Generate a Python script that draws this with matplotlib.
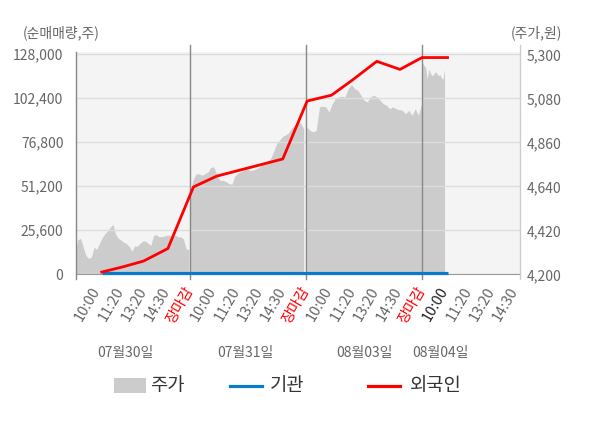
import matplotlib
matplotlib.use("Agg")
import matplotlib.pyplot as plt
from matplotlib.patches import Rectangle
from matplotlib.lines import Line2D
import numpy as np

plt.rcParams["font.family"] = ["Noto Sans CJK KR", "DejaVu Sans"]

# x axis: 5 slots per trading day, one tick label per slot end
tick_labels = (["10:00", "11:20", "13:20", "14:30", "장마감"] * 3
               + ["10:00", "11:20", "13:20", "14:30"])
day_labels = ["07월30일", "07월31일", "08월03일", "08월04일"]
day_label_x = [2.2, 7.4, 12.5, 15.8]

# 주가 (원), intraday samples per day
price_day1 = [4307, 4372, 4380, 4337, 4295, 4279, 4287, 4335, 4325, 4355,
              4383, 4403, 4417, 4435, 4450, 4400, 4380, 4370, 4360, 4353,
              4340, 4315, 4342, 4340, 4355, 4366, 4366, 4355, 4345, 4395,
              4398, 4388, 4388, 4391, 4396, 4395, 4390, 4395, 4387, 4387,
              4378, 4328, 4323]
price_day2 = [4611, 4670, 4702, 4703, 4695, 4703, 4712, 4735, 4737, 4693,
              4670, 4670, 4664, 4654, 4650, 4692, 4706, 4714, 4722, 4727,
              4720, 4720, 4727, 4734, 4747, 4758, 4765, 4780, 4815, 4855,
              4872, 4890, 4897, 4908, 4932, 4945, 4965, 4956, 4928]
price_day3 = [4937, 4920, 4912, 4920, 5037, 5040, 5037, 5012, 5053, 5078,
              5087, 5090, 5087, 5128, 5150, 5128, 5120, 5095, 5070, 5062,
              5087, 5095, 5087, 5070, 5053, 5045, 5028, 5037, 5028, 5023,
              5020, 5003, 5020, 4995, 5028, 4995, 5053]
price_day4 = [5255, 5245, 5233, 5178, 5225, 5208, 5192, 5200, 5212, 5208,
              5192, 5200, 5183, 5175, 5225]
price_days = [price_day1, price_day2, price_day3, price_day4]
day_spans = [(0.05, 4.95), (5.0, 9.9), (10.03, 14.98), (15.02, 15.97)]

# 누적 순매매량 (주)
flow_x = [1.2, 2.1, 3.0, 4.05, 5.15, 6.15, 9.0, 10.05, 11.1, 12.0, 13.05, 14.05, 15.0, 16.1]
foreign = [1300, 4300, 7700, 15000, 50800, 57100, 67100, 100800, 104200,
           113000, 123900, 119200, 126100, 126100]
institution = [1000] * len(flow_x)

left_ticks = [0, 25600, 51200, 76800, 102400, 128000]
right_ticks = [4200, 4420, 4640, 4860, 5080, 5300]

GRAY_TXT = "#666666"

fig = plt.figure(figsize=(6, 4.28), dpi=100)
ax = fig.add_axes([76 / 600, (428 - 274.3) / 428, 443.5 / 600, 222.6 / 428])
ax2 = ax.twinx()

ax.set_zorder(2)
ax.patch.set_visible(False)
ax2.set_zorder(1)
ax2.patch.set_visible(True)
ax2.set_facecolor("#f4f4f4")

# price area
for prices, (x0, x1) in zip(price_days, day_spans):
    xs = np.linspace(x0, x1, len(prices))
    ax2.fill_between(xs, 4200, prices, color="#cccccc", lw=0)

ax2.set_ylim(4200, 5313)
ax2.set_yticks(right_ticks)
ax2.set_yticklabels([f"{v:,}" for v in right_ticks])

# flows
ax.plot(flow_x, institution, color="#0c7bc7", lw=2.3, solid_capstyle="butt",
        zorder=6, clip_on=False)
ax.plot(flow_x, foreign, color="#ff0000", lw=2.0, zorder=7, clip_on=False)

ax.set_xlim(0.09, 19.2)
ax.set_ylim(0, 129500)
ax.set_yticks(left_ticks)
ax.set_yticklabels([f"{v:,}" for v in left_ticks])
ax.grid(axis="y", color="#dddddd", lw=1)
ax.set_axisbelow(False)

ax.set_xticks(range(1, len(tick_labels) + 1))
ax.set_xticklabels(tick_labels, rotation=60, ha="right", rotation_mode="anchor",
                   va="center", fontsize=10.5)
for i, t in enumerate(ax.get_xticklabels()):
    if t.get_text() == "장마감":
        t.set_color("#ff0000")
    elif i == 15:
        t.set_color("#222222")
    else:
        t.set_color(GRAY_TXT)

ax.tick_params(axis="x", length=0, pad=10)
ax.tick_params(axis="y", length=0, pad=9, labelsize=10, labelcolor=GRAY_TXT)
ax2.tick_params(axis="y", length=0, pad=5, labelsize=10, labelcolor=GRAY_TXT)

for a in (ax, ax2):
    for s in a.spines.values():
        s.set_visible(False)
ax.spines["bottom"].set_visible(True)
ax.spines["bottom"].set_color("#999999")
ax.spines["bottom"].set_zorder(1)

# day separators and axis edges
for xv in (5, 10, 15):
    ax.axvline(xv, ymin=-0.021, ymax=1.03, color="#888888", lw=1, clip_on=False, zorder=5)
ax.axvline(0.09, ymin=-0.021, ymax=1.0, color="#888888", lw=1, clip_on=False, zorder=5)
ax.axvline(19.2, ymin=-0.021, ymax=1.03, color="#cccccc", lw=1, clip_on=False, zorder=5)

# date labels under the time ticks
for xv, lab in zip(day_label_x, day_labels):
    ax.text(xv, -0.3535, lab, transform=ax.get_xaxis_transform(), ha="center",
            va="center", fontsize=10, color=GRAY_TXT)

# axis titles
fig.text(22.7 / 600, 1 - 33 / 428, "(순매매량,주)", ha="left", va="center",
         fontsize=10, color=GRAY_TXT)
fig.text(562 / 600, 1 - 33 / 428, "(주가,원)", ha="right", va="center",
         fontsize=10, color=GRAY_TXT)

# legend
ly = 1 - 386 / 428
fig.add_artist(Rectangle((114 / 600, 1 - 393 / 428), 32 / 600, 15 / 428,
                         transform=fig.transFigure, color="#cccccc", lw=0))
fig.text(150 / 600, ly, "주가", ha="left", va="center", fontsize=13.5, color="#333333")
fig.add_artist(Line2D([230 / 600, 262 / 600], [ly, ly], transform=fig.transFigure,
                      color="#0c7bc7", lw=2.3))
fig.text(270 / 600, ly, "기관", ha="left", va="center", fontsize=13.5, color="#333333")
fig.add_artist(Line2D([368 / 600, 400 / 600], [ly, ly], transform=fig.transFigure,
                      color="#ff0000", lw=2.3))
fig.text(410 / 600, ly, "외국인", ha="left", va="center", fontsize=13.5, color="#333333")

fig.savefig("out.png", dpi=100)
